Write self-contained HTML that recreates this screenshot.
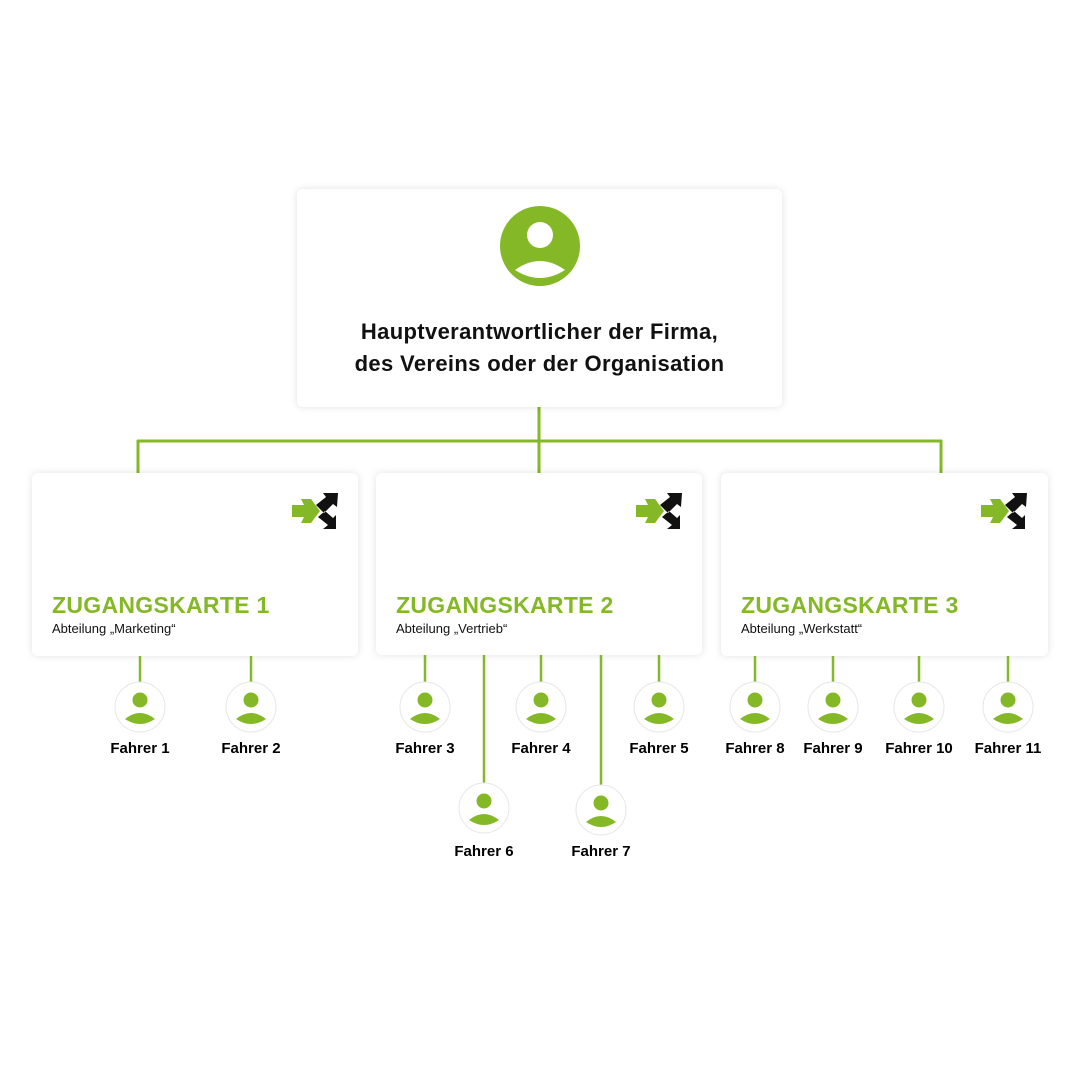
<!DOCTYPE html>
<html><head><meta charset="utf-8"><style>
body{margin:0;width:1080px;height:1080px;background:#fff;position:relative;overflow:hidden;font-family:"Liberation Sans",sans-serif}
.box{position:absolute;background:#fff;border-radius:6px;box-shadow:0 0 8px rgba(0,0,0,0.12)}
.t{position:absolute;color:#84b827;font-weight:bold;font-size:23px;left:20px;top:119px;letter-spacing:0.3px}
.s{position:absolute;font-size:13px;left:20px;top:148px;color:#111}
.lab{position:absolute;font-weight:bold;font-size:15px;width:100px;text-align:center;color:#000}
</style></head><body>
<svg width="1080" height="1080" style="position:absolute;left:0;top:0">
<g stroke="#84b827" stroke-width="3" fill="none">
<line x1="539" y1="407" x2="539" y2="473"/>
<line x1="137" y1="441" x2="942" y2="441"/>
<line x1="138" y1="440" x2="138" y2="473"/>
<line x1="941" y1="440" x2="941" y2="473"/>
</g>
</svg>
<div class="box" style="left:297px;top:189px;width:485px;height:218px">
<svg width="84" height="84" style="position:absolute;left:201px;top:15px" viewBox="0 0 84 84">
<circle cx="42" cy="42" r="40" fill="#84b827"/>
<circle cx="42" cy="31" r="13" fill="#fff"/>
<path d="M17 66 Q42 48 67 66 Q42 82 17 66Z" fill="#fff"/>
</svg>
<div style="position:absolute;left:0;width:485px;top:127px;text-align:center;font-weight:bold;font-size:22px;letter-spacing:0.35px;line-height:32px;color:#111">Hauptverantwortlicher der Firma,<br>des Vereins oder der Organisation</div>
</div>
<div class="box" style="left:32px;top:473px;width:326px;height:183px"><div class="t">ZUGANGSKARTE 1</div><div class="s">Abteilung „Marketing“</div>
<svg width="50" height="46" style="position:absolute;left:260px;top:18px" viewBox="0 0 50 46"><path d="M0 14h12l-3-6h10l9 12-9 12h-10l3-6H0z" fill="#84b827"/><path d="M24 14l10-8-3-4 15 0-1 14-4-3-9 9z M26 26l10 8-5 4 13 0 0-14-3 3-8-7z" fill="#111"/></svg></div>
<div class="box" style="left:376px;top:473px;width:326px;height:182px"><div class="t">ZUGANGSKARTE 2</div><div class="s">Abteilung „Vertrieb“</div>
<svg width="50" height="46" style="position:absolute;left:260px;top:18px" viewBox="0 0 50 46"><path d="M0 14h12l-3-6h10l9 12-9 12h-10l3-6H0z" fill="#84b827"/><path d="M24 14l10-8-3-4 15 0-1 14-4-3-9 9z M26 26l10 8-5 4 13 0 0-14-3 3-8-7z" fill="#111"/></svg></div>
<div class="box" style="left:721px;top:473px;width:327px;height:183px"><div class="t">ZUGANGSKARTE 3</div><div class="s">Abteilung „Werkstatt“</div>
<svg width="50" height="46" style="position:absolute;left:260px;top:18px" viewBox="0 0 50 46"><path d="M0 14h12l-3-6h10l9 12-9 12h-10l3-6H0z" fill="#84b827"/><path d="M24 14l10-8-3-4 15 0-1 14-4-3-9 9z M26 26l10 8-5 4 13 0 0-14-3 3-8-7z" fill="#111"/></svg></div>
<svg width="1080" height="1080" style="position:absolute;left:0;top:0">
<defs><g id="p"><circle r="25" fill="#fff" stroke="#e6e6e6" stroke-width="1"/><circle cy="-7" r="7.5" fill="#84b827"/><path d="M-15 12 Q0 0 15 12 Q0 22 -15 12Z" fill="#84b827"/></g></defs>
<g stroke="#84b827" stroke-width="2.5">
<line x1="140" y1="656" x2="140" y2="682"/><line x1="251" y1="656" x2="251" y2="682"/>
<line x1="425" y1="655" x2="425" y2="682"/><line x1="541" y1="655" x2="541" y2="682"/><line x1="659" y1="655" x2="659" y2="682"/>
<line x1="484" y1="655" x2="484" y2="783"/><line x1="601" y1="655" x2="601" y2="785"/>
<line x1="755" y1="656" x2="755" y2="682"/><line x1="833" y1="656" x2="833" y2="682"/><line x1="919" y1="656" x2="919" y2="682"/><line x1="1008" y1="656" x2="1008" y2="682"/>
</g>
<use href="#p" x="140" y="707"/><use href="#p" x="251" y="707"/><use href="#p" x="425" y="707"/><use href="#p" x="541" y="707"/><use href="#p" x="659" y="707"/>
<use href="#p" x="484" y="808"/><use href="#p" x="601" y="810"/>
<use href="#p" x="755" y="707"/><use href="#p" x="833" y="707"/><use href="#p" x="919" y="707"/><use href="#p" x="1008" y="707"/>
</svg>
<div class="lab" style="left:90px;top:740px">Fahrer 1</div>
<div class="lab" style="left:201px;top:740px">Fahrer 2</div>
<div class="lab" style="left:375px;top:740px">Fahrer 3</div>
<div class="lab" style="left:491px;top:740px">Fahrer 4</div>
<div class="lab" style="left:609px;top:740px">Fahrer 5</div>
<div class="lab" style="left:434px;top:843px">Fahrer 6</div>
<div class="lab" style="left:551px;top:843px">Fahrer 7</div>
<div class="lab" style="left:705px;top:740px">Fahrer 8</div>
<div class="lab" style="left:783px;top:740px">Fahrer 9</div>
<div class="lab" style="left:869px;top:740px">Fahrer 10</div>
<div class="lab" style="left:958px;top:740px">Fahrer 11</div>
</body></html>
